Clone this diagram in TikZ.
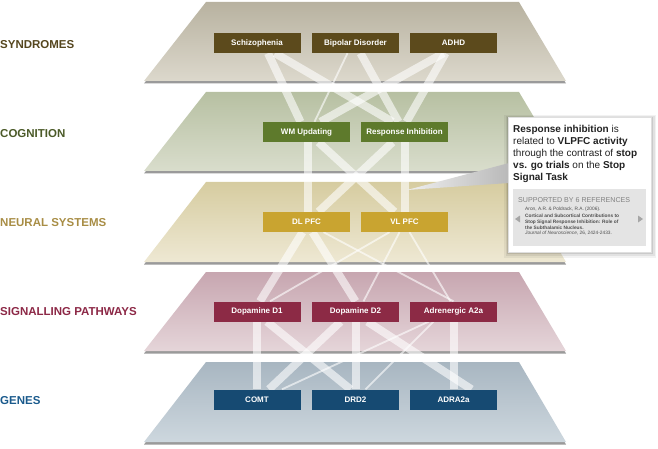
\documentclass[tikz,border=0pt]{standalone}
\usepackage{fontspec}
\setmainfont{Liberation Sans}
\usetikzlibrary{calc}
\definecolor{synlab}{HTML}{55461E}
\definecolor{coglab}{HTML}{4B5A28}
\definecolor{neulab}{HTML}{A88D45}
\definecolor{siglab}{HTML}{8C2846}
\definecolor{genlab}{HTML}{1A5A8C}
\definecolor{synbox}{HTML}{5C4A1C}
\definecolor{cogbox}{HTML}{5E7A2C}
\definecolor{neubox}{HTML}{C9A430}
\definecolor{sigbox}{HTML}{8C2A45}
\definecolor{genbox}{HTML}{164A72}
\definecolor{syntop}{HTML}{B8B2A0}
\definecolor{synbot}{HTML}{DCD8CC}
\definecolor{cogtop}{HTML}{B7C0A2}
\definecolor{cogbot}{HTML}{D9DDCC}
\definecolor{neutop}{HTML}{D6CCA0}
\definecolor{neubot}{HTML}{EEE8D3}
\definecolor{sigtop}{HTML}{C7A6B0}
\definecolor{sigbot}{HTML}{E5D5D9}
\definecolor{gentop}{HTML}{A8B6C1}
\definecolor{genbot}{HTML}{CDD7DE}
\definecolor{planeedge}{HTML}{9A9A9A}
\definecolor{refgray}{HTML}{E4E4E4}
\definecolor{suppgray}{HTML}{808080}
\definecolor{calltext}{HTML}{222222}
\pgfdeclarelayer{planes}
\pgfdeclarelayer{bands}
\pgfsetlayers{planes,bands,main}
\newcommand\layerplane[4]{%
  \fill[planeedge] (206,#1+2) -- (519,#1+2) -- (566,#2+2.5) -- (144,#2+2.5) -- cycle;
  \shade[top color=#3,bottom color=#4] (206,#1) -- (519,#1) -- (566,#2) -- (144,#2) -- cycle;}
\tikzset{
  band/.style={draw=white, draw opacity=0.6, line width=8pt},
  thinband/.style={draw=white, draw opacity=0.6, line width=1.8pt},
  lbox/.style={minimum width=87pt, minimum height=20pt, inner sep=0pt, text=white,
    font=\bfseries\fontsize{8}{9.6}\selectfont},
  lab/.style={anchor=west, inner sep=0pt, font=\bfseries\fontsize{11.5}{13}\selectfont},
}
\begin{document}
\begin{tikzpicture}[x=1pt,y=-1pt]
\useasboundingbox (0,0) rectangle (658,449);
% planes
\begin{pgfonlayer}{planes}
\layerplane{2}{81}{syntop}{synbot}
\layerplane{92}{171}{cogtop}{cogbot}
\layerplane{182}{262}{neutop}{neubot}
\layerplane{272}{351}{sigtop}{sigbot}
\layerplane{362}{442}{gentop}{genbot}
\end{pgfonlayer}
% labels
\node[lab, text=synlab] (lsyn) at (0,45) {SYNDROMES};
\node[lab, text=coglab] (lcog) at (0,133.5) {COGNITION};
\node[lab, text=neulab] (lneu) at (0,222.5) {NEURAL SYSTEMS};
\node[lab, text=siglab] (lsig) at (0,311.5) {SIGNALLING PATHWAYS};
\node[lab, text=genlab] (lgen) at (0,401) {GENES};
% boxes
\node[lbox, fill=synbox] (schiz) at (257,43) {Schizophenia};
\node[lbox, fill=synbox] (bip) at (355.5,43) {Bipolar Disorder};
\node[lbox, fill=synbox] (adhd) at (453.5,43) {ADHD};
\node[lbox, fill=cogbox] (wm) at (306.5,132) {WM Updating};
\node[lbox, fill=cogbox] (ri) at (404.5,132) {Response Inhibition};
\node[lbox, fill=neubox] (dl) at (306.5,222) {DL PFC};
\node[lbox, fill=neubox] (vl) at (404.5,222) {VL PFC};
\node[lbox, fill=sigbox] (d1) at (257,311.5) {Dopamine D1};
\node[lbox, fill=sigbox] (d2) at (355.5,311.5) {Dopamine D2};
\node[lbox, fill=sigbox] (a2a) at (453.5,311.5) {Adrenergic A2a};
\node[lbox, fill=genbox] (comt) at (257,399.5) {COMT};
\node[lbox, fill=genbox] (drd2) at (355.5,399.5) {DRD2};
\node[lbox, fill=genbox] (adra) at (453.5,399.5) {ADRA2a};
% bands
\begin{pgfonlayer}{bands}
% syndromes -> cognition
\draw[band] ([xshift=11pt]schiz.south) -- ([xshift=-6pt]wm.north);
\draw[band] ([xshift=18pt]schiz.south) -- ([xshift=-12pt]ri.north);
\draw[thinband] ([xshift=-8pt]bip.south) -- ([xshift=8pt]wm.north);
\draw[band] ([xshift=5pt]bip.south) -- ([xshift=-6pt]ri.north);
\draw[band] ([xshift=-10pt]adhd.south) -- ([xshift=14pt]wm.north);
\draw[band] ([xshift=-8pt]adhd.south) -- ([xshift=2pt]ri.north);
% cognition -> neural
\draw[band] ([xshift=1pt]wm.south) -- ([xshift=1pt]dl.north);
\draw[band] ([xshift=12pt]wm.south) -- ([xshift=-10pt]vl.north);
\draw[band] ([xshift=-12pt]ri.south) -- ([xshift=12pt]dl.north);
\draw[band] ([xshift=0pt]ri.south) -- ([xshift=0pt]vl.north);
% neural -> signalling
\draw[band] ([xshift=-4pt]dl.south) -- ([xshift=3pt]d1.north);
\draw[band] ([xshift=6pt]dl.south) -- ([xshift=0pt]d2.north);
\draw[thinband] ([xshift=17pt]dl.south) -- ([xshift=0pt]a2a.north);
\draw[thinband] ([xshift=-15pt]vl.south) -- ([xshift=13pt]d1.north);
\draw[thinband] ([xshift=-5pt]vl.south) -- ([xshift=8pt]d2.north);
\draw[thinband] ([xshift=5pt]vl.south) -- ([xshift=-3pt]a2a.north);
% signalling -> genes
\draw[band] ([xshift=0pt]d1.south) -- ([xshift=0pt]comt.north);
\draw[band] ([xshift=10pt]d1.south) -- ([xshift=-5pt]drd2.north);
\draw[band] ([xshift=-15pt]d2.south) -- ([xshift=12pt]comt.north);
\draw[band] ([xshift=0pt]d2.south) -- ([xshift=0pt]drd2.north);
\draw[band] ([xshift=12pt]d2.south) -- ([xshift=18pt]adra.north);
\draw[band] ([xshift=0pt]a2a.south) -- ([xshift=0pt]adra.north);
\draw[thinband] ([xshift=-25pt]a2a.south) -- ([xshift=25pt]comt.north);
\draw[thinband] ([xshift=-20pt]a2a.south) -- ([xshift=10pt]drd2.north);
\end{pgfonlayer}
% callout
\coordinate (tip) at (407,190);
\fill[black, opacity=0.05] (504,115) rectangle (656,258);
\fill[black, opacity=0.07] (505.5,116) rectangle (654.5,256);
\fill[black, opacity=0.10] (507,117.5) rectangle (653,254);
\shade[left color=gray!12, right color=gray!55] (tip) -- (509,163) -- (509,183) -- cycle;
\node[draw=gray!25, fill=white, inner sep=0pt, minimum width=143pt, minimum height=135pt, anchor=north west] (call) at (508,117) {};
\node[anchor=north west, inner sep=0pt, align=left, text=calltext,
  font=\fontsize{10}{12}\selectfont] (calltxt) at (513,125.5)
  {\textbf{Response inhibition} is\\related to \textbf{VLPFC activity}\\through the contrast of \textbf{stop}\\\textbf{vs. go trials} on the \textbf{Stop}\\\textbf{Signal Task}};
\node[fill=refgray, inner sep=0pt, minimum width=133pt, minimum height=57pt, anchor=north west] (refbox) at (513,189) {};
\node[anchor=base west, inner sep=0pt, text=suppgray, font=\fontsize{7.1}{8}\selectfont] (supp) at (518,202) {SUPPORTED BY 6 REFERENCES};
\node[anchor=north west, inner sep=0pt, align=left, text=calltext!80,
  font=\fontsize{4.8}{5.7}\selectfont] (refs) at (525,207)
  {Aron, A.R. \& Poldrack, R.A. (2006).\\[1.3pt]\textbf{Cortical and Subcortical Contributions to}\\\textbf{Stop Signal Response Inhibition: Role of}\\\textbf{the Subthalamic Nucleus.}\\\textit{Journal of Neuroscience}, 26, 2424-2433.};
\fill[gray!70] (515,219) -- (520,215.5) -- (520,222.5) -- cycle;
\fill[gray!70] (643,219) -- (638,215.5) -- (638,222.5) -- cycle;
\end{tikzpicture}
\end{document}
